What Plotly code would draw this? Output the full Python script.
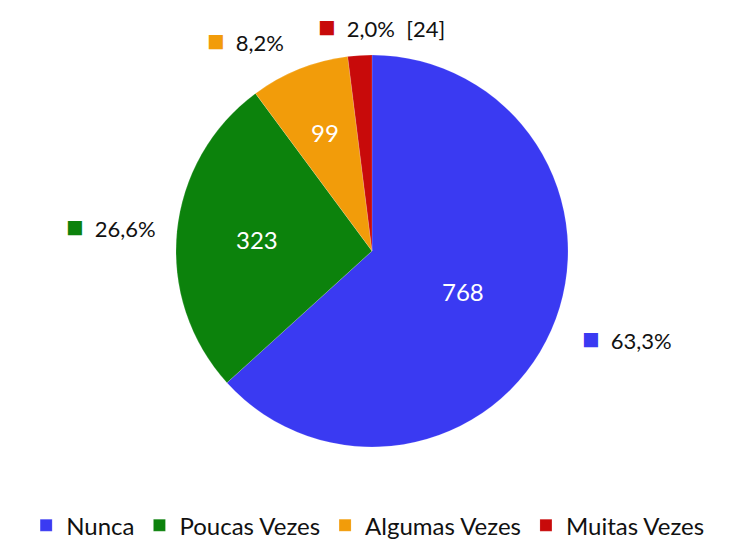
import math
import plotly.graph_objects as go

categories = ["Nunca", "Poucas Vezes", "Algumas Vezes", "Muitas Vezes"]
counts = [768, 323, 99, 24]
pct_labels = ["63,3%", "26,6%", "8,2%", "2,0%  [24]"]
inside_labels = ["768", "323", "99", ""]

colors = ["#3a3af2", "#0c820c", "#f29c0a", "#c80a0a"]

W, H = 735, 542
# the page body adds an 8px offset, so positions are shifted back
cx, cy, r = 364, 243, 196  # pie centre / radius in px

fig = go.Figure()
fig.add_trace(go.Pie(
    labels=categories,
    values=counts,
    textinfo="none",
    sort=False,
    direction="clockwise",
    rotation=0,
    marker=dict(colors=colors, line=dict(color="rgba(255,255,255,0.3)", width=0.5)),
    domain=dict(x=[(cx - r) / W, (cx + r) / W], y=[1 - (cy + r) / H, 1 - (cy - r) / H]),
    hoverinfo="label+value+percent",
))

# labels placed from each slice's mid angle
offsets = [(76, -7), (-66, 6), (-54, 30), (22, 30)]
inner_frac = [0.51, 0.59, 0.65, 0.6]
total = sum(counts)
acc = 0
for i, v in enumerate(counts):
    mid = (acc + v / 2) / total * 2 * math.pi
    acc += v
    sx, sy = math.sin(mid), math.cos(mid)
    # outside percentage label
    px, py = cx + r * sx, cy - r * sy
    fig.add_annotation(
        x=px / W, y=1 - py / H, xref="paper", yref="paper",
        xanchor="center", yanchor="middle",
        xshift=offsets[i][0], yshift=offsets[i][1],
        text=f"<span style='color:{colors[i]};font-size:29px'>■</span>  {pct_labels[i]}",
        showarrow=False,
        font=dict(family="Lato", size=22, color="#111111"),
    )
    # value inside the slice
    if inside_labels[i]:
        ix, iy = cx + r * inner_frac[i] * sx, cy - r * inner_frac[i] * sy
        fig.add_annotation(
            x=ix / W, y=1 - iy / H, xref="paper", yref="paper",
            xanchor="center", yanchor="middle",
            text=inside_labels[i], showarrow=False,
            font=dict(family="Lato", size=24, color="white"),
        )

fig.update_layout(
    width=W, height=H,
    margin=dict(l=0, r=0, t=0, b=0),
    paper_bgcolor="white",
    showlegend=True,
    legend=dict(
        orientation="h", x=0.49, xanchor="center", y=0.045, yanchor="middle",
        font=dict(family="Lato", size=24, color="#111111"),
        itemwidth=30,
    ),
)

fig.write_html("out.html")
